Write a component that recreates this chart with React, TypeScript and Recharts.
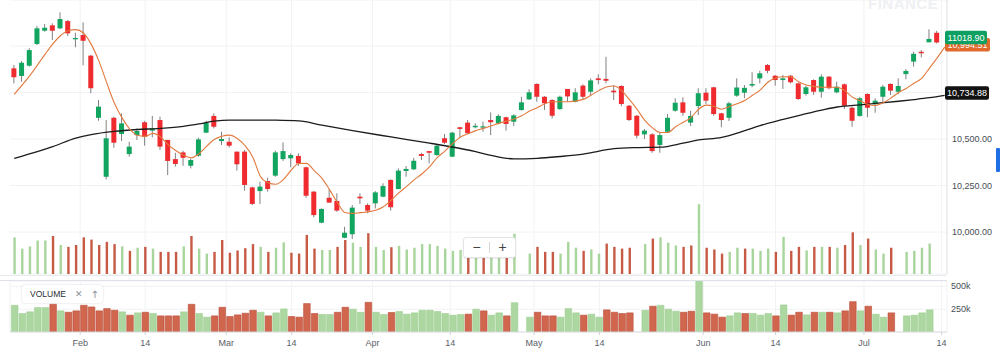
import {
  Bar,
  CartesianGrid,
  Cell,
  ComposedChart,
  Line,
  ReferenceDot,
  XAxis,
  YAxis,
} from 'recharts'

// daily candles, oldest first (last one is today, no volume yet)
const opens = [
  10880, 10839, 10894, 11011, 11082, 11111, 11095, 11134, 11036, 11059,
  10948, 10614, 10297, 10614, 10527, 10419, 10521, 10590, 10545, 10602,
  10495, 10392, 10428, 10356, 10410, 10534, 10624, 10489, 10485, 10432,
  10432, 10240, 10220, 10274, 10303, 10392, 10396, 10409, 10348, 10217,
  10050, 10184, 10167, 9969, 9988, 10190, 10145, 10154, 10190, 10280,
  10231, 10328, 10337, 10419, 10435, 10414, 10504, 10405, 10563, 10588,
  10563, 10561, 10602, 10584, 10617, 10593, 10656, 10713, 10796, 10727,
  10710, 10661, 10769, 10700, 10787, 10754, 10826, 10823, 10760, 10785,
  10679, 10625, 10525, 10525, 10468, 10539, 10652, 10697, 10588, 10677,
  10749, 10778, 10638, 10614, 10733, 10749, 10787, 10826, 10898, 10840,
  10817, 10840, 10799, 10742, 10817, 10754, 10835, 10751, 10794, 10668,
  10624, 10742, 10687, 10727, 10796, 10754, 10849, 10916, 10969, 11020,
  11071,
]
const highs = [
  10898, 10919, 10988, 11107, 11118, 11122, 11181, 11140, 11071, 11127,
  10952, 10710, 10602, 10620, 10638, 10485, 10557, 10598, 10624, 10620,
  10495, 10426, 10437, 10396, 10507, 10598, 10638, 10539, 10509, 10432,
  10441, 10244, 10270, 10292, 10437, 10482, 10423, 10423, 10351, 10220,
  10127, 10230, 10208, 10028, 10145, 10208, 10154, 10220, 10262, 10283,
  10342, 10355, 10399, 10426, 10435, 10471, 10527, 10539, 10566, 10602,
  10584, 10593, 10643, 10633, 10620, 10633, 10727, 10767, 10799, 10731,
  10713, 10733, 10769, 10773, 10794, 10826, 10848, 10942, 10790, 10789,
  10683, 10629, 10554, 10531, 10534, 10634, 10719, 10724, 10652, 10773,
  10773, 10781, 10641, 10700, 10826, 10790, 10859, 10867, 10903, 10844,
  10844, 10844, 10803, 10787, 10821, 10848, 10839, 10808, 10799, 10674,
  10727, 10746, 10719, 10790, 10799, 10826, 10876, 10969, 10978, 11090,
  11082,
]
const lows = [
  10799, 10808, 10889, 11005, 11077, 11032, 11090, 11054, 10993, 10896,
  10746, 10598, 10283, 10453, 10489, 10405, 10495, 10464, 10509, 10441,
  10306, 10351, 10356, 10342, 10405, 10531, 10557, 10468, 10455, 10330,
  10222, 10145, 10151, 10217, 10297, 10382, 10348, 10355, 10184, 10079,
  10047, 10158, 10109, 9966, 9962, 10151, 10101, 10127, 10187, 10115,
  10230, 10297, 10333, 10387, 10369, 10410, 10473, 10402, 10504, 10527,
  10557, 10539, 10521, 10579, 10545, 10570, 10652, 10710, 10700, 10656,
  10611, 10656, 10700, 10697, 10715, 10733, 10794, 10799, 10710, 10677,
  10597, 10504, 10500, 10426, 10426, 10534, 10647, 10625, 10570, 10629,
  10688, 10625, 10563, 10597, 10727, 10719, 10778, 10799, 10853, 10787,
  10769, 10799, 10710, 10733, 10737, 10722, 10767, 10746, 10661, 10566,
  10620, 10617, 10641, 10697, 10737, 10740, 10821, 10889, 10939, 11020,
  11014,
]
const closes = [
  10832, 10910, 10978, 11095, 11098, 11082, 11145, 11068, 11043, 11028,
  10773, 10674, 10504, 10480, 10584, 10459, 10543, 10512, 10557, 10459,
  10382, 10366, 10399, 10387, 10498, 10588, 10566, 10500, 10464, 10364,
  10253, 10151, 10244, 10231, 10428, 10435, 10414, 10369, 10195, 10091,
  10124, 10158, 10115, 9996, 10131, 10181, 10115, 10213, 10247, 10133,
  10330, 10339, 10383, 10409, 10426, 10464, 10480, 10534, 10554, 10531,
  10571, 10568, 10590, 10624, 10581, 10627, 10697, 10751, 10727, 10692,
  10625, 10727, 10729, 10751, 10727, 10815, 10817, 10813, 10751, 10688,
  10602, 10518, 10545, 10435, 10521, 10614, 10695, 10641, 10624, 10746,
  10706, 10634, 10602, 10692, 10777, 10775, 10796, 10853, 10867, 10817,
  10826, 10805, 10715, 10778, 10754, 10835, 10773, 10781, 10679, 10598,
  10719, 10668, 10706, 10781, 10760, 10785, 10866, 10958, 10961, 11038,
  11018.9,
]
// volume in thousands
const volumes = [
  293, 203, 221, 268, 268, 304, 232, 217, 232, 293,
  275, 232, 257, 239, 221, 185, 210, 217, 203, 177,
  177, 177, 221, 304, 203, 163, 177, 272, 170, 188,
  206, 239, 217, 177, 210, 253, 170, 163, 312, 203,
  192, 192, 217, 272, 250, 217, 326, 217, 192, 214,
  225, 196, 210, 239, 239, 225, 203, 185, 192, 196,
  250, 232, 185, 210, 177, 322, 0, 163, 217, 177,
  177, 163, 257, 210, 185, 196, 163, 243, 217, 203,
  210, 0, 239, 283, 293, 250, 228, 217, 228, 558,
  210, 196, 163, 177, 210, 203, 203, 185, 203, 177,
  297, 185, 217, 188, 217, 217, 217, 210, 232, 333,
  232, 283, 196, 163, 210, 0, 177, 185, 210, 243,
  0,
]

// moving averages as [bar index, value]
const fastMa: [number, number][] = [
  [0, 10740], [2, 10839], [4, 10955], [5, 11010], [6, 11055], [7, 11082], [8, 11088],
  [9, 11070], [10, 11010], [11, 10920], [12, 10806], [13, 10695], [14, 10615], [15, 10555],
  [16, 10520], [17, 10514], [18, 10530], [19, 10512], [20, 10470], [21, 10438], [22, 10412],
  [23, 10399], [24, 10420], [25, 10460], [26, 10497], [28, 10521], [29, 10503], [30, 10465],
  [31, 10405], [32, 10300], [33, 10265], [34, 10257], [35, 10282], [36, 10332], [37, 10368],
  [38, 10369], [39, 10330], [40, 10290], [41, 10228], [42, 10160], [43, 10105], [44, 10100],
  [45, 10104], [46, 10108], [48, 10136], [49, 10170], [50, 10210], [51, 10244], [52, 10280],
  [53, 10312], [54, 10350], [55, 10400], [56, 10435], [57, 10475], [58, 10510], [59, 10528],
  [60, 10545], [61, 10557], [62, 10570], [63, 10584], [64, 10596], [65, 10608], [66, 10625],
  [67, 10650], [68, 10668], [69, 10690], [70, 10700], [72, 10700], [74, 10713], [75, 10735],
  [76, 10760], [77, 10780], [78, 10785], [79, 10760], [80, 10712], [81, 10660], [82, 10600],
  [83, 10560], [84, 10535], [85, 10535], [86, 10566], [87, 10590], [88, 10615], [89, 10660],
  [90, 10682], [91, 10675], [92, 10660], [93, 10675], [94, 10690], [95, 10707], [96, 10735],
  [97, 10763], [98, 10805], [99, 10828], [100, 10835], [101, 10834], [102, 10808], [103, 10790],
  [104, 10783], [105, 10778], [107, 10778], [108, 10760], [109, 10725], [110, 10706], [111, 10685],
  [112, 10680], [113, 10695], [114, 10720], [115, 10750], [116, 10772], [117, 10800], [118, 10826],
  [119, 10880], [120, 10935], [121, 10994.51],
]
const slowMa: [number, number][] = [
  [0, 10396], [3, 10432], [5, 10459], [8, 10505], [10, 10524], [13, 10541], [16, 10551],
  [19, 10557], [22, 10568], [24, 10581], [26, 10596], [28, 10602], [31, 10602], [34, 10601],
  [37, 10597], [40, 10575], [44, 10545], [49, 10511], [54, 10478], [57, 10457], [60, 10432],
  [62, 10412], [65, 10393], [68, 10396], [71, 10406], [74, 10419], [78, 10448], [81, 10454],
  [84, 10456], [87, 10478], [89, 10495], [92, 10509], [95, 10545], [97, 10572], [100, 10605],
  [102, 10626], [105, 10655], [107, 10672], [110, 10684], [112, 10691], [115, 10703],
  [117, 10712], [119, 10722], [121, 10734.88],
]

const tickIndex = [8.58, 17.03, 27.57, 36.07, 46.6, 56.7, 67.6, 76.1, 89.6, 99.0, 110.5, 120.6]
const tickLabels = ['Feb', '14', 'Mar', '14', 'Apr', '14', 'May', '14', 'Jun', '14', 'Jul', '14']
const priceTicks = [10000, 10250, 10500, 10750, 11000]
const shownPriceTicks = [10000, 10250, 10500]
const volumeTicks = [250, 500]

const SLOTS = 122
const X_DOMAIN: [number, number] = [-0.55, 121.3]
const GREEN = '#12a55f'
const RED = '#ef2b2f'
const FONT = '"Liberation Sans", Arial, Helvetica, sans-serif'

const fastMap = new Map(fastMa)
const slowMap = new Map(slowMa)

const rows = Array.from({ length: SLOTS }, (_, i) => {
  const has = i < closes.length
  return {
    i,
    range: has ? [lows[i], highs[i]] : undefined,
    open: opens[i],
    high: highs[i],
    low: lows[i],
    close: closes[i],
    vol: has ? volumes[i] : undefined,
    up: i === 0 || closes[i] >= closes[i - 1],
    fast: fastMap.get(i) ?? null,
    slow: slowMap.get(i) ?? null,
  }
})

const fmtPrice = (v: number) =>
  v.toLocaleString('en-US', { minimumFractionDigits: 2, maximumFractionDigits: 2 })

function Candle(props: any) {
  const { x, y, width, height, payload } = props
  if (!payload || !payload.range) return null
  const { open, close, high, low } = payload
  const top = Math.min(y, y + height)
  const h = Math.abs(height)
  const k = high === low ? 0 : h / (high - low)
  const yOf = (v: number) => top + (high - v) * k
  const bodyTop = yOf(Math.max(open, close))
  const bodyH = Math.max(1, yOf(Math.min(open, close)) - bodyTop)
  const cx = x + width / 2
  return (
    <g>
      <line x1={cx} x2={cx} y1={top} y2={top + h} stroke="#808080" strokeWidth={1} />
      <rect x={x} y={bodyTop} width={width} height={bodyH} fill={close >= open ? GREEN : RED} />
    </g>
  )
}

function PriceTick({ x, y, payload }: any) {
  if (!shownPriceTicks.includes(payload.value)) return null
  return (
    <text x={x} y={y} dy={3} fontSize={9} fill="#464e56" fontFamily={FONT}>
      {fmtPrice(payload.value)}
    </text>
  )
}

function VolTick({ x, y, payload }: any) {
  return (
    <text x={x} y={y} dy={3} fontSize={9} fill="#464e56" fontFamily={FONT}>
      {payload.value}k
    </text>
  )
}

function DateTick({ x, y, payload }: any) {
  const idx = tickIndex.indexOf(payload.value)
  return (
    <text x={x} y={y} dy={9} textAnchor="middle" fontSize={9} fill="#5a6168" fontFamily={FONT}>
      {tickLabels[idx]}
    </text>
  )
}

const badge = (label: string, fill: string, width: number) => (p: any) => {
  const { cx, cy } = p
  return (
    <g>
      <rect x={cx - 2} y={cy - 9} width={width} height={13.5} rx={2} fill={fill} />
      <text
        x={cx - 2 + width / 2}
        y={cy + 1}
        textAnchor="middle"
        fontSize={9}
        fill="#fff"
        fontFamily={FONT}
      >
        {label}
      </text>
    </g>
  )
}

export default function App() {
  const lastClose = closes[closes.length - 1]
  const lastFast = fastMa[fastMa.length - 1][1]
  const lastSlow = slowMa[slowMa.length - 1][1]

  return (
    <div
      style={{
        position: 'absolute',
        left: 0,
        top: 0,
        width: 1000,
        height: 357,
        background: '#fff',
        overflow: 'hidden',
        fontFamily: FONT,
      }}
    >
      <div
        style={{
          position: 'absolute',
          left: 868,
          top: -5,
          fontSize: 15,
          fontWeight: 700,
          letterSpacing: 0.5,
          color: '#eef0f2',
        }}
      >
        FINANCE
      </div>

      <div style={{ position: 'absolute', left: 0, top: 0 }}>
        <ComposedChart width={1000} height={281} data={rows} margin={{ top: 0, right: 0, bottom: 7, left: 10 }}>
          <CartesianGrid stroke="#f1f2f4" verticalValues={tickIndex} />
          <XAxis type="number" dataKey="i" domain={X_DOMAIN} ticks={tickIndex} hide allowDataOverflow />
          <XAxis xAxisId="v" type="number" dataKey="i" domain={X_DOMAIN} hide allowDataOverflow />
          <YAxis
            orientation="right"
            width={53}
            domain={[9774.2, 11247.3]}
            ticks={priceTicks}
            interval={0}
            allowDataOverflow
            axisLine={{ stroke: '#dcdfe3' }}
            tickLine={false}
            tickSize={0}
            tickMargin={5}
            tick={<PriceTick />}
          />
          <YAxis yAxisId="vol" hide domain={[0, 2190]} allowDataOverflow />
          <Bar xAxisId="v" yAxisId="vol" dataKey="vol" barSize={2.4} isAnimationActive={false}>
            {rows.map((r) => (
              <Cell key={r.i} fill={r.up ? '#a8d59b' : '#c65a45'} />
            ))}
          </Bar>
          <Bar dataKey="range" barSize={5} shape={<Candle />} isAnimationActive={false} />
          <Line
            type="monotone"
            dataKey="slow"
            stroke="#1c1c1c"
            strokeWidth={1.3}
            dot={false}
            connectNulls
            isAnimationActive={false}
          />
          <Line
            type="monotone"
            dataKey="fast"
            stroke="#e27a3e"
            strokeWidth={1.1}
            dot={false}
            connectNulls
            isAnimationActive={false}
          />
          <ReferenceDot
            x={X_DOMAIN[1]}
            y={lastSlow}
            ifOverflow="visible"
            shape={badge(fmtPrice(lastSlow), '#121212', 44)}
          />
          <ReferenceDot
            x={X_DOMAIN[1]}
            y={lastFast}
            ifOverflow="visible"
            shape={badge(fmtPrice(lastFast), '#e0692c', 45)}
          />
          <ReferenceDot
            x={X_DOMAIN[1]}
            y={lastClose + 15}
            ifOverflow="visible"
            shape={badge(lastClose.toFixed(2), '#0e9f62', 42)}
          />
        </ComposedChart>
      </div>

      <div style={{ position: 'absolute', left: 0, top: 275, width: 947, height: 1, background: '#e6e9ee' }} />
      <div style={{ position: 'absolute', left: 0, top: 280, width: 947, height: 1, background: '#dfe3e9' }} />

      <div
        style={{
          position: 'absolute',
          left: 463,
          top: 237,
          width: 51,
          height: 19,
          background: '#fff',
          border: '1px solid #e3e5e8',
          borderRadius: 3,
          boxShadow: '0 1px 2px rgba(0,0,0,0.08)',
          display: 'flex',
          alignItems: 'center',
          fontSize: 14,
          color: '#444',
        }}
      >
        <span style={{ width: 25, textAlign: 'center', lineHeight: '19px' }}>−</span>
        <span style={{ width: 1, height: 11, background: '#d5d8dc' }} />
        <span style={{ width: 25, textAlign: 'center', lineHeight: '19px' }}>+</span>
      </div>

      <div style={{ position: 'absolute', left: 0, top: 281 }}>
        <ComposedChart width={1000} height={76} data={rows} margin={{ top: 0, right: 0, bottom: 0, left: 10 }}>
          <CartesianGrid stroke="#f1f2f4" />
          <XAxis
            type="number"
            dataKey="i"
            domain={X_DOMAIN}
            ticks={tickIndex}
            interval={0}
            height={25}
            allowDataOverflow
            axisLine={{ stroke: '#d9dde2' }}
            tickLine={{ stroke: '#cfd3d8' }}
            tickSize={3}
            tickMargin={2}
            tick={<DateTick />}
          />
          <YAxis
            orientation="right"
            width={53}
            domain={[0, 560]}
            ticks={volumeTicks}
            interval={0}
            allowDataOverflow
            axisLine={false}
            tickLine={false}
            tickSize={0}
            tickMargin={4}
            tick={<VolTick />}
          />
          <Bar dataKey="vol" barSize={6.6} isAnimationActive={false}>
            {rows.map((r) => (
              <Cell
                key={r.i}
                fill={r.up ? '#acd7a0' : '#d1664f'}
                stroke={r.up ? '#9fcf92' : '#bb4f39'}
                strokeWidth={0.6}
              />
            ))}
          </Bar>
        </ComposedChart>
      </div>

      <div
        style={{
          position: 'absolute',
          left: 22,
          top: 285,
          width: 81,
          height: 18,
          background: '#fff',
          borderRadius: 3,
          boxShadow: '0 0 2px rgba(0,0,0,0.18)',
          display: 'flex',
          alignItems: 'center',
          fontSize: 8.5,
          color: '#2b2f33',
        }}
      >
        <span style={{ marginLeft: 8, fontWeight: 500 }}>VOLUME</span>
        <span style={{ marginLeft: 9, color: '#8a9097', fontFamily: '"DejaVu Sans"', fontSize: 9 }}>✕</span>
        <span style={{ marginLeft: 8, color: '#8a9097', fontFamily: '"DejaVu Sans"', fontSize: 10 }}>↑</span>
      </div>

      <div style={{ position: 'absolute', left: 996, top: 148, width: 4, height: 24, background: '#1f6fe5', borderRadius: 1 }} />
    </div>
  )
}
